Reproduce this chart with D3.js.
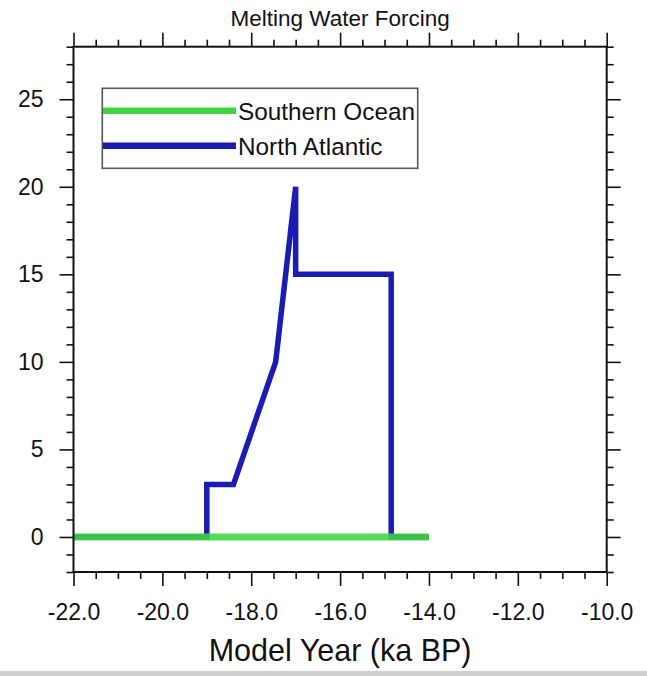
<!DOCTYPE html>
<html>
<head>
<meta charset="utf-8">
<script src="https://cdn.jsdelivr.net/npm/d3@7"></script>
<style>
  html, body { margin: 0; padding: 0; background: #fff; }
  svg { display: block; }
  text { font-family: "Liberation Sans", Arial, Helvetica, sans-serif; fill: #111; }
</style>
</head>
<body>
<svg id="chart" width="647" height="676"></svg>
<script>
// Meltwater forcing time series (ka BP vs. flux)
const naYear = [-22, -19, -19, -18.4, -17.45, -17.0, -17.0, -14.85, -14.85, -14.0];
const naFlux = [0, 0, 3, 3, 10, 20, 15, 15, 0, 0];
const soYear = [-22, -14];
const soFlux = [0, 0];

const seriesNames = ["Southern Ocean", "North Atlantic"];
const seriesColors = ["#3ed63e", "#1c1cb2"];

const xTickValues = [-22, -20, -18, -16, -14, -12, -10];
const xTickLabels = ["-22.0", "-20.0", "-18.0", "-16.0", "-14.0", "-12.0", "-10.0"];
const yTickValues = [0, 5, 10, 15, 20, 25];
const yTickLabels = ["0", "5", "10", "15", "20", "25"];

const titleText = "Melting Water Forcing";
const xTitleText = "Model Year (ka BP)";

const svg = d3.select("#chart");
const W = 647, H = 676;
const frame = { left: 73.5, right: 606.7, top: 46.7, bottom: 572 };

const x = d3.scaleLinear().domain([-22, -10]).range([frame.left, frame.right]);
const y = d3.scaleLinear().domain([-2, 28]).range([frame.bottom, frame.top]);

svg.append("rect").attr("width", W).attr("height", H).attr("fill", "#fff");
// thin grey strip along the bottom edge
svg.append("rect").attr("x", 0).attr("y", 671).attr("width", W).attr("height", 5).attr("fill", "#cfcfcf");

// minor tick positions
const xMinor = d3.range(-22, -9.99, 0.5).filter(v => Math.abs(v % 2) > 1e-6);
const yMinor = d3.range(-2, 28.01, 1).filter(v => Math.abs(v % 5) > 1e-6);

const MAJ = 14, MIN = 7;

function addAxis(axisGen, transform) {
  const g = svg.append("g").attr("transform", transform).call(axisGen);
  g.select(".domain").remove();
  g.selectAll(".tick line").attr("stroke", "#111").attr("stroke-width", 1.6);
  return g;
}

// bottom
addAxis(d3.axisBottom(x).tickValues(xMinor).tickSize(MIN).tickFormat(""), `translate(0,${frame.bottom})`);
const gxb = addAxis(d3.axisBottom(x).tickValues(xTickValues).tickSize(MAJ).tickPadding(20)
  .tickFormat((d, i) => xTickLabels[i]), `translate(0,${frame.bottom})`);
gxb.selectAll("text").attr("font-size", 23).attr("fill", "#111").attr("dy", "0");
gxb.selectAll("text").attr("y", 48);

// top
addAxis(d3.axisTop(x).tickValues(xMinor).tickSize(MIN).tickFormat(""), `translate(0,${frame.top})`);
addAxis(d3.axisTop(x).tickValues(xTickValues).tickSize(MAJ).tickFormat(""), `translate(0,${frame.top})`);

// left
addAxis(d3.axisLeft(y).tickValues(yMinor).tickSize(MIN).tickFormat(""), `translate(${frame.left},0)`);
const gyl = addAxis(d3.axisLeft(y).tickValues(yTickValues).tickSize(MAJ).tickPadding(16)
  .tickFormat((d, i) => yTickLabels[i]), `translate(${frame.left},0)`);
gyl.selectAll("text").attr("font-size", 23).attr("fill", "#111").attr("x", -30);

// right
addAxis(d3.axisRight(y).tickValues(yMinor).tickSize(MIN).tickFormat(""), `translate(${frame.right},0)`);
addAxis(d3.axisRight(y).tickValues(yTickValues).tickSize(MAJ).tickFormat(""), `translate(${frame.right},0)`);

// data lines
const line = d3.line().x(d => x(d[0])).y(d => y(d[1]));
const naData = naYear.map((v, i) => [v, naFlux[i]]);
const soData = soYear.map((v, i) => [v, soFlux[i]]);

svg.append("path").datum(naData).attr("d", line)
  .attr("fill", "none").attr("stroke", seriesColors[1]).attr("stroke-width", 5.5)
  .attr("stroke-linejoin", "miter").attr("stroke-miterlimit", 3);
svg.append("path").datum(soData).attr("d", line)
  .attr("fill", "none").attr("stroke", seriesColors[0]).attr("stroke-width", 7)
  .attr("stroke-opacity", 0.88);

// frame
svg.append("rect")
  .attr("x", frame.left).attr("y", frame.top)
  .attr("width", frame.right - frame.left).attr("height", frame.bottom - frame.top)
  .attr("fill", "none").attr("stroke", "#111").attr("stroke-width", 2);

// legend
const leg = svg.append("g");
leg.append("rect").attr("x", 102.3).attr("y", 88.3).attr("width", 315.4).attr("height", 80)
  .attr("fill", "none").attr("stroke", "#555").attr("stroke-width", 1.6);
const legRows = [
  { name: seriesNames[0], color: seriesColors[0], y: 110.7 },
  { name: seriesNames[1], color: seriesColors[1], y: 145.7 }
];
legRows.forEach(r => {
  leg.append("line").attr("x1", 103).attr("x2", 236).attr("y1", r.y).attr("y2", r.y)
    .attr("stroke", r.color).attr("stroke-width", 6.5);
  leg.append("text").attr("x", 238).attr("y", r.y + 9).attr("font-size", 24.3).text(r.name);
});

// titles
svg.append("text").attr("x", (frame.left + frame.right) / 2).attr("y", 26)
  .attr("text-anchor", "middle").attr("font-size", 22.5).text(titleText);
svg.append("text").attr("x", (frame.left + frame.right) / 2).attr("y", 661)
  .attr("text-anchor", "middle").attr("font-size", 30.5).text(xTitleText);
</script>
</body>
</html>
